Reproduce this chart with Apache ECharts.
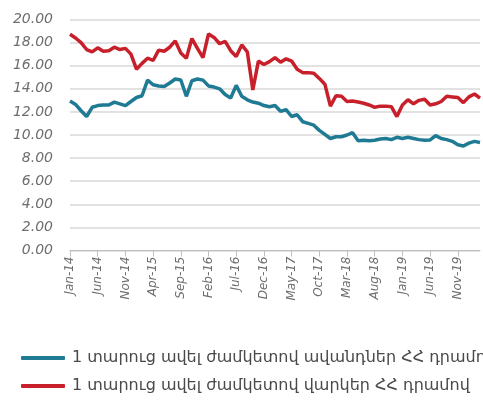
<!DOCTYPE html>
<html>
<head>
<meta charset="utf-8">
<script src="https://cdn.jsdelivr.net/npm/echarts@6/dist/echarts.min.js"></script>
<style>html,body{margin:0;padding:0;background:#fff;}#c{width:483px;height:401px;}</style>
</head>
<body>
<div id="c"></div>
<script>
const months = (function(){
  const m = ['Jan','Feb','Mar','Apr','May','Jun','Jul','Aug','Sep','Oct','Nov','Dec'];
  const out = [];
  for (let y = 14; y <= 20; y++) for (let k = 0; k < 12; k++) out.push(m[k] + '-' + y);
  return out.slice(0, 75);
})();
const deposits = [12.94,12.65,12.1,11.6,12.4,12.55,12.6,12.6,12.85,12.7,12.55,12.9,13.25,13.4,14.75,14.35,14.25,14.2,14.5,14.85,14.76,13.35,14.7,14.85,14.75,14.25,14.15,14.0,13.5,13.2,14.3,13.35,13.05,12.85,12.75,12.55,12.45,12.55,12.05,12.2,11.6,11.75,11.15,11.0,10.85,10.4,10.05,9.7,9.85,9.85,10.0,10.2,9.5,9.55,9.5,9.55,9.65,9.7,9.6,9.8,9.7,9.8,9.7,9.6,9.55,9.57,9.95,9.7,9.6,9.45,9.15,9.05,9.3,9.45,9.35];
const loans = [18.72,18.4,18.0,17.4,17.2,17.55,17.25,17.3,17.6,17.4,17.5,17.0,15.7,16.2,16.65,16.45,17.35,17.25,17.6,18.15,17.1,16.65,18.35,17.5,16.7,18.75,18.45,17.9,18.1,17.3,16.8,17.8,17.2,13.9,16.4,16.1,16.35,16.7,16.3,16.6,16.4,15.7,15.4,15.4,15.35,14.9,14.4,12.5,13.4,13.35,12.9,12.95,12.85,12.75,12.6,12.4,12.5,12.5,12.45,11.6,12.6,13.05,12.7,13.0,13.1,12.6,12.7,12.9,13.35,13.3,13.25,12.8,13.3,13.55,13.2];
const seriesNames = ['1 տարուց ավել ժամկետով ավանդներ ՀՀ դրամով','1 տարուց ավել ժամկետով վարկեր ՀՀ դրամով'];
const yTicks = {min: 0, max: 20, interval: 2};

const chart = echarts.init(document.getElementById('c'), null, {renderer: 'canvas'});
chart.setOption({
  animation: false,
  backgroundColor: '#fff',
  grid: {left: 70, right: 3, top: 19.5, bottom: 150.5, containLabel: false},
  legend: {
    orient: 'vertical', left: 16, top: 345, itemGap: 12,
    itemWidth: 44, itemHeight: 4, icon: 'roundRect',
    textStyle: {fontFamily: 'DejaVu Sans', fontSize: 16, color: '#4a4a4a', padding: [0,0,0,2]},
    data: seriesNames
  },
  xAxis: {
    type: 'category', data: months, boundaryGap: false,
    axisLine: {lineStyle: {color: '#bfbfbf', width: 1}},
    axisTick: {interval: 4, length: 6, lineStyle: {color: '#bfbfbf'}},
    axisLabel: {interval: 4, rotate: 90, margin: 6, fontFamily: 'DejaVu Sans', fontStyle: 'italic', fontSize: 12, color: '#6e6e6e'},
    splitLine: {show: false}
  },
  yAxis: {
    type: 'value', min: yTicks.min, max: yTicks.max, interval: yTicks.interval,
    axisLine: {show: false}, axisTick: {show: false},
    axisLabel: {margin: 17, fontFamily: 'DejaVu Sans', fontStyle: 'italic', fontSize: 14, color: '#6e6e6e',
      formatter: v => v.toFixed(2)},
    splitLine: {lineStyle: {color: '#d9d9d9', width: 1.5}}
  },
  series: [
    {name: seriesNames[0], type: 'line', data: deposits, symbol: 'none', lineStyle: {color: '#1f7b94', width: 3.5}, itemStyle: {color: '#1f7b94'}},
    {name: seriesNames[1], type: 'line', data: loans, symbol: 'none', lineStyle: {color: '#c8202a', width: 3.5}, itemStyle: {color: '#c8202a'}}
  ]
});
</script>
</body>
</html>
